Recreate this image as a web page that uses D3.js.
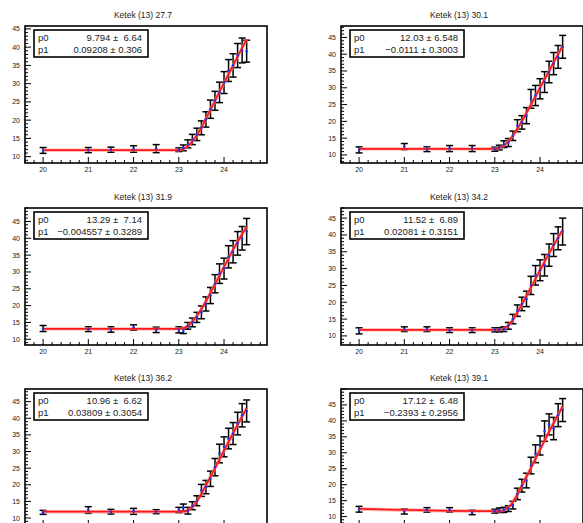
<!DOCTYPE html>
<html>
<head>
<meta charset="utf-8">
<script src="https://cdn.jsdelivr.net/npm/d3@7"></script>
<style>
body { margin: 0; background: #fff; }
text { font-family: "Liberation Sans", Arial, sans-serif; fill: #222; }
</style>
</head>
<body>
<svg id="canvas" width="583" height="523"></svg>
<script>
// ---- data ----
var titles = ["Ketek (13) 27.7", "Ketek (13) 30.1", "Ketek (13) 31.9",
              "Ketek (13) 34.2", "Ketek (13) 36.2", "Ketek (13) 39.1"];

var xVals = [20, 21, 21.5, 22, 22.5, 23.0, 23.1, 23.2, 23.3, 23.4, 23.5,
             23.6, 23.7, 23.8, 23.9, 24.0, 24.1, 24.2, 24.3, 24.4, 24.5];

var y277 = [11.7, 11.8, 11.9, 12.1, 12.2, 11.9, 12.4, 13.5, 14.7, 16.1, 17.9, 20.2, 23.0, 25.3, 27.6, 30.3, 33.6, 35.0, 37.7, 39.1, 38.9];
var e277 = [0.8, 0.7, 0.7, 0.9, 1.1, 0.5, 0.8, 1.1, 1.4, 1.7, 1.9, 2.1, 2.5, 2.6, 2.8, 3.0, 3.0, 3.2, 3.3, 3.4, 3.0];
var y301 = [11.5, 12.5, 11.7, 11.9, 11.9, 11.7, 12.2, 13.2, 13.7, 15.7, 18.7, 19.7, 21.7, 26.7, 27.7, 29.7, 31.7, 34.7, 37.2, 39.2, 42.2];
var e301 = [0.9, 0.9, 0.7, 0.9, 0.9, 0.6, 0.7, 1.0, 1.2, 1.4, 1.8, 2.0, 2.4, 2.8, 3.0, 3.0, 3.1, 3.2, 3.3, 3.4, 3.4];
var y319 = [13.2, 13.0, 12.9, 13.5, 12.8, 12.8, 12.5, 14.0, 15.0, 16.5, 18.0, 20.5, 23.0, 26.5, 29.5, 31.0, 34.5, 36.0, 38.5, 40.0, 42.0];
var e319 = [0.9, 0.7, 0.8, 0.8, 0.8, 0.9, 0.8, 1.0, 1.3, 1.5, 1.9, 2.1, 2.4, 2.7, 2.9, 3.1, 3.3, 3.3, 3.5, 3.5, 3.9];
var y342 = [11.5, 12.0, 12.0, 11.7, 11.7, 11.8, 11.8, 12.0, 13.0, 15.0, 17.5, 19.5, 21.0, 25.0, 28.0, 29.5, 31.0, 34.0, 37.0, 39.0, 41.0];
var e342 = [0.9, 0.7, 0.7, 0.7, 0.7, 0.6, 0.6, 0.7, 1.0, 1.4, 1.7, 2.0, 2.3, 2.7, 2.9, 3.1, 3.2, 3.3, 3.4, 3.4, 4.0];
var y362 = [11.7, 12.4, 11.9, 12.0, 11.9, 12.4, 13.2, 12.2, 13.7, 15.2, 18.3, 19.3, 21.8, 25.3, 29.4, 31.4, 33.9, 35.4, 38.4, 40.9, 42.2];
var e362 = [0.6, 1.0, 0.7, 0.9, 0.6, 0.8, 1.0, 1.0, 1.2, 1.5, 1.8, 2.0, 2.3, 2.6, 2.8, 3.0, 3.1, 3.3, 3.4, 3.5, 3.3];
var y391 = [12.3, 11.6, 12.1, 12.1, 11.3, 11.7, 12.0, 12.1, 12.5, 13.6, 17.1, 19.7, 21.3, 26.0, 29.7, 32.3, 36.8, 38.9, 37.6, 41.8, 43.4];
var e391 = [0.9, 0.8, 0.7, 0.7, 0.7, 0.6, 0.7, 0.8, 0.9, 1.2, 1.8, 2.0, 2.3, 2.6, 2.8, 3.0, 3.2, 3.3, 3.5, 3.6, 3.6];

// fitted curve, sampled at these x
var fitX = [20, 23.0, 23.1, 23.2, 23.3, 23.4, 23.5, 23.6, 23.8, 24.0, 24.2, 24.5];
var fit277 = [11.8, 11.8, 12.1, 12.9, 14.2, 15.9, 18.0, 20.4, 25.3, 30.2, 35.0, 42.2];
var fit301 = [11.8, 11.8, 12.1, 12.8, 14.0, 15.7, 17.8, 20.1, 25.0, 30.0, 35.0, 42.5];
var fit319 = [13.1, 13.1, 13.3, 14.0, 15.2, 16.9, 19.0, 21.3, 26.4, 31.5, 36.6, 43.5];
var fit342 = [11.8, 11.8, 11.8, 12.1, 13.1, 14.8, 17.0, 19.4, 24.4, 29.5, 34.5, 41.5];
var fit362 = [11.9, 11.9, 11.9, 12.3, 13.3, 15.0, 17.3, 19.8, 25.0, 30.3, 35.5, 43.0];
var fit391 = [12.4, 11.7, 11.7, 12.0, 12.9, 14.6, 17.0, 19.7, 25.3, 31.0, 36.6, 44.5];

var p0Text = ["9.794 \u00b1  6.64", "12.03 \u00b1 6.548", "13.29 \u00b1  7.14",
              "11.52 \u00b1  6.89", "10.96 \u00b1  6.62", "17.12 \u00b1  6.48"];
var p1Text = ["0.09208 \u00b1 0.306", "\u22120.0111 \u00b1 0.3003", "\u22120.004557 \u00b1 0.3289",
              "0.02081 \u00b1 0.3151", "0.03809 \u00b1 0.3054", "\u22120.2393 \u00b1 0.2956"];

var yRanges = [[8.26, 45.8], [7.6, 48.4], [8.3, 49], [7.3, 48], [7.6, 48.8], [7.05, 50]];
var xRange = [19.6, 24.95];
var yTicks = [10, 15, 20, 25, 30, 35, 40, 45];
var xTicks = [20, 21, 22, 23, 24];

var allY = [y277, y301, y319, y342, y362, y391];
var allE = [e277, e301, e319, e342, e362, e391];
var allFit = [fit277, fit301, fit319, fit342, fit362, fit391];

// ---- layout ----
var W = 583, H = 523;
var colX = [25, 341], rowY = [26, 208, 389];
var pw = 242, ph = 137;

var svg = d3.select("#canvas");

titles.forEach(function(title, k) {
    var x0 = colX[k % 2], y0 = rowY[Math.floor(k / 2)];
    var g = svg.append("g").attr("transform", "translate(" + x0 + "," + y0 + ")");

    var x = d3.scaleLinear().domain(xRange).range([0, pw]);
    var y = d3.scaleLinear().domain(yRanges[k]).range([ph, 0]);

    // title
    svg.append("text")
        .attr("x", x0 + pw / 2 - 3)
        .attr("y", y0 - 8)
        .attr("text-anchor", "middle")
        .style("font-size", "8.5px")
        .text(title);

    // minor + major ticks (inside the frame)
    var yMinor = d3.range(Math.ceil(yRanges[k][0]), Math.floor(yRanges[k][1]) + 1);
    g.selectAll(".ytm").data(yMinor).enter().append("line")
        .attr("x1", 0).attr("x2", d => (d % 5 === 0) ? 6 : 3)
        .attr("y1", d => y(d)).attr("y2", d => y(d))
        .attr("stroke", "#000").attr("stroke-width", 1);
    var xMinor = d3.range(19.6, 24.95, 0.2).map(d => Math.round(d * 10) / 10);
    g.selectAll(".xtm").data(xMinor).enter().append("line")
        .attr("x1", d => x(d)).attr("x2", d => x(d))
        .attr("y1", ph).attr("y2", d => (Math.abs(d - Math.round(d)) < 1e-6) ? ph - 6 : ph - 3)
        .attr("stroke", "#000").attr("stroke-width", 1);

    g.selectAll(".yl").data(yTicks).enter().append("text")
        .attr("x", -5).attr("y", d => y(d) + 2.5)
        .attr("text-anchor", "end")
        .style("font-size", "7px")
        .text(d => d);
    // x labels of the bottom row fall below the canvas, like in the picture
    if (y0 + ph + 9 < H) {
        g.selectAll(".xl").data(xTicks).enter().append("text")
            .attr("x", d => x(d)).attr("y", ph + 9)
            .attr("text-anchor", "middle")
            .style("font-size", "7px")
            .text(d => d);
    }

    // error bars
    var pts = xVals.map(function(xv, i) { return {x: xv, y: allY[k][i], e: allE[k][i]}; });
    var bars = g.append("g").attr("stroke", "#000").attr("stroke-width", 1.5);
    bars.selectAll(".eb").data(pts).enter().append("line")
        .attr("x1", d => x(d.x)).attr("x2", d => x(d.x))
        .attr("y1", d => y(d.y - d.e)).attr("y2", d => y(d.y + d.e));
    bars.selectAll(".ct").data(pts).enter().append("line")
        .attr("x1", d => x(d.x) - 3.5).attr("x2", d => x(d.x) + 3.5)
        .attr("y1", d => y(d.y + d.e)).attr("y2", d => y(d.y + d.e));
    bars.selectAll(".cb").data(pts).enter().append("line")
        .attr("x1", d => x(d.x) - 3.5).attr("x2", d => x(d.x) + 3.5)
        .attr("y1", d => y(d.y - d.e)).attr("y2", d => y(d.y - d.e));

    // fit curve
    var line = d3.line().x(d => x(d[0])).y(d => y(d[1])).curve(d3.curveMonotoneX);
    var fitPts = fitX.map((xv, i) => [xv, allFit[k][i]]);
    g.append("path")
        .datum(fitPts)
        .attr("d", line)
        .attr("fill", "none")
        .attr("stroke", "#ff8080")
        .attr("stroke-opacity", 0.6)
        .attr("stroke-width", 3.4);
    g.append("path")
        .datum(fitPts)
        .attr("d", line)
        .attr("fill", "none")
        .attr("stroke", "#ff1a1a")
        .attr("stroke-width", 1.8);

    // markers
    g.selectAll(".mk").data(pts).enter().append("circle")
        .attr("cx", d => x(d.x)).attr("cy", d => y(d.y))
        .attr("r", 1.3).attr("fill", "#2233ee");

    // frame
    g.append("rect")
        .attr("width", pw).attr("height", ph)
        .attr("fill", "none").attr("stroke", "#000").attr("stroke-width", 1.6);

    // stats box
    var bx = 9, by = 4, bw = 114, bh = 27;
    g.append("rect")
        .attr("x", bx).attr("y", by).attr("width", bw).attr("height", bh)
        .attr("fill", "#fff").attr("stroke", "#000").attr("stroke-width", 1.6);
    [["p0", p0Text[k]], ["p1", p1Text[k]]].forEach(function(row, r) {
        var ty = by + 10.5 + r * 12.5;
        g.append("text").attr("x", bx + 4).attr("y", ty)
            .style("font-size", "9.5px").text(row[0]);
        g.append("text").attr("x", bx + bw - 6).attr("y", ty)
            .attr("text-anchor", "end")
            .attr("xml:space", "preserve")
            .style("white-space", "pre")
            .style("font-size", "9.5px").text(row[1]);
    });
});
</script>
</body>
</html>
